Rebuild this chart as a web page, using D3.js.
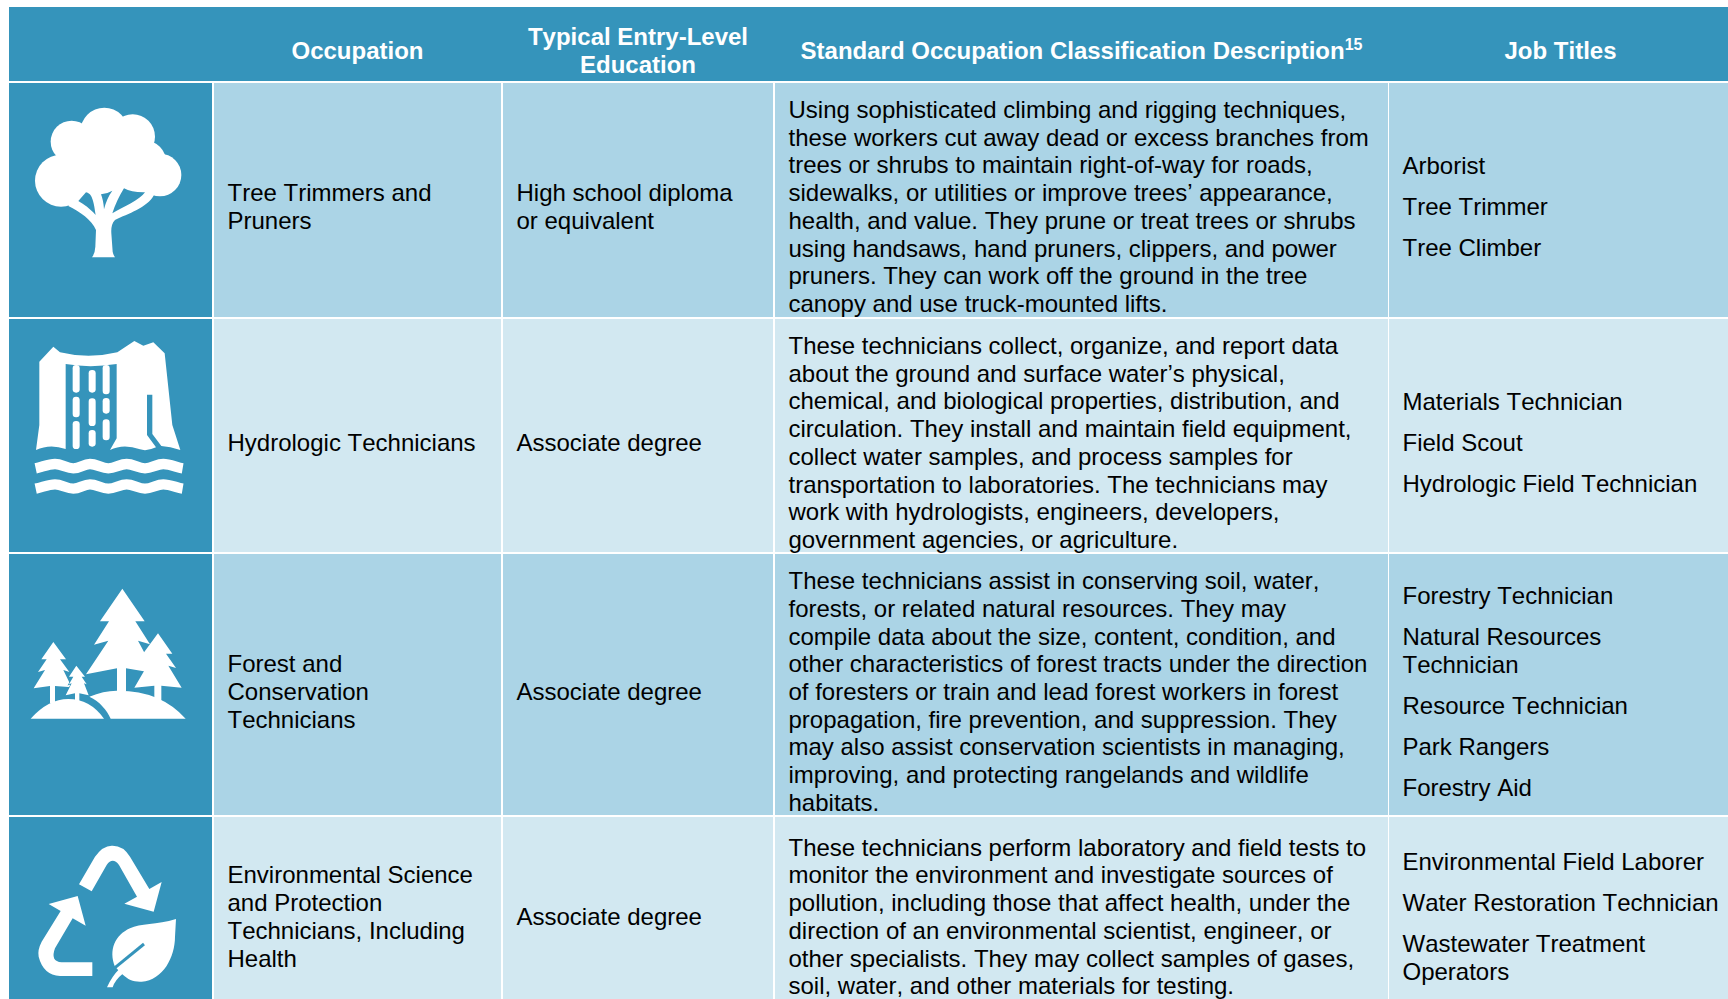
<!DOCTYPE html>
<html>
<head>
<meta charset="utf-8">
<script src="https://cdnjs.cloudflare.com/ajax/libs/d3/7.8.5/d3.min.js"></script>
<style>
    html, body { margin: 0; padding: 0; background: #fff; overflow: hidden; }
    text { font-family: "Liberation Sans", Arial, sans-serif; font-kerning: none; }
</style>
</head>
<body>
<main></main>
<script>
// Table content
const headers = [
    ['Occupation'],
    ['Typical Entry-Level', 'Education'],
    ['Standard Occupation Classification Description'],
    ['Job Titles']
];
const occupations = [
    ['Tree Trimmers and', 'Pruners'],
    ['Hydrologic Technicians'],
    ['Forest and', 'Conservation', 'Technicians'],
    ['Environmental Science', 'and Protection', 'Technicians, Including', 'Health']
];
const education = [
    ['High school diploma', 'or equivalent'],
    ['Associate degree'],
    ['Associate degree'],
    ['Associate degree']
];
const descriptions = [
    ['Using sophisticated climbing and rigging techniques,',
     'these workers cut away dead or excess branches from',
     'trees or shrubs to maintain right-of-way for roads,',
     'sidewalks, or utilities or improve trees’ appearance,',
     'health, and value. They prune or treat trees or shrubs',
     'using handsaws, hand pruners, clippers, and power',
     'pruners. They can work off the ground in the tree',
     'canopy and use truck-mounted lifts.'],
    ['These technicians collect, organize, and report data',
     'about the ground and surface water’s physical,',
     'chemical, and biological properties, distribution, and',
     'circulation. They install and maintain field equipment,',
     'collect water samples, and process samples for',
     'transportation to laboratories. The technicians may',
     'work with hydrologists, engineers, developers,',
     'government agencies, or agriculture.'],
    ['These technicians assist in conserving soil, water,',
     'forests, or related natural resources. They may',
     'compile data about the size, content, condition, and',
     'other characteristics of forest tracts under the direction',
     'of foresters or train and lead forest workers in forest',
     'propagation, fire prevention, and suppression. They',
     'may also assist conservation scientists in managing,',
     'improving, and protecting rangelands and wildlife',
     'habitats.'],
    ['These technicians perform laboratory and field tests to',
     'monitor the environment and investigate sources of',
     'pollution, including those that affect health, under the',
     'direction of an environmental scientist, engineer, or',
     'other specialists. They may collect samples of gases,',
     'soil, water, and other materials for testing.']
];
const jobTitles = [
    [['Arborist'], ['Tree Trimmer'], ['Tree Climber']],
    [['Materials Technician'], ['Field Scout'], ['Hydrologic Field Technician']],
    [['Forestry Technician'], ['Natural Resources', 'Technician'], ['Resource Technician'], ['Park Rangers'], ['Forestry Aid']],
    [['Environmental Field Laborer'], ['Water Restoration Technician'], ['Wastewater Treatment', 'Operators']]
];

// Layout and colours (the last column and row run past the page edge)
const svgWidth = 1728, svgHeight = 999;
const columnEdges = [[9, 212], [214, 501], [503, 773], [775, 1388], [1389, 1732]];
const rowEdges = [[83, 317], [319, 552], [554, 815], [817, 1003]];
const headerBox = { x: 9, y: 7, width: 1719, height: 74 };
const textPad = 13.5, lineHeight = 27.67, titleGap = 41, baselineShift = 15;
const blue = '#3594bb', rowDark = '#abd4e6', rowLight = '#d2e8f1';

const svg = d3.select('main').append('svg')
    .attr('width', svgWidth)
    .attr('height', svgHeight)
    .style('display', 'block');

// Header band
svg.append('rect')
    .attr('x', headerBox.x).attr('y', headerBox.y)
    .attr('width', headerBox.width).attr('height', headerBox.height)
    .attr('fill', blue);

const headerCy = headerBox.y + headerBox.height / 2 + baselineShift;
headers.forEach((lines, c) => {
    const cx = (columnEdges[c + 1][0] + columnEdges[c + 1][1]) / 2;
    const text = svg.append('text')
        .attr('text-anchor', 'middle')
        .attr('fill', '#fff')
        .attr('font-size', 24)
        .attr('font-weight', 700);
    lines.forEach((line, i) => {
        text.append('tspan')
            .attr('x', cx)
            .attr('y', headerCy + (i - (lines.length - 1) / 2) * lineHeight)
            .text(line);
    });
    // footnote mark on the description header
    if (c === 2) {
        text.append('tspan').attr('font-size', 16).attr('dy', -9).text('15');
    }
});

// Body cells
rowEdges.forEach(([top, bottom], r) => {
    const cy = Math.ceil((top + bottom) / 2 + baselineShift);
    columnEdges.forEach(([left, right], c) => {
        svg.append('rect')
            .attr('x', left).attr('y', top)
            .attr('width', right - left).attr('height', bottom - top)
            .attr('fill', c === 0 ? blue : (r % 2 === 0 ? rowDark : rowLight));
    });

    const columns = [occupations[r], education[r], descriptions[r]];
    columns.forEach((lines, c) => {
        svg.selectAll(null)
            .data(lines)
            .enter()
            .append('text')
            .attr('x', columnEdges[c + 1][0] + textPad)
            .attr('y', (d, i) => cy + (i - (lines.length - 1) / 2) * lineHeight)
            .attr('font-size', 24)
            .attr('fill', '#000')
            .text(d => d);
    });

    // Job titles: paragraphs with a larger gap between them
    const groups = jobTitles[r];
    const extra = d3.sum(groups, g => g.length - 1) * lineHeight + (groups.length - 1) * titleGap;
    let y = cy - extra / 2;
    groups.forEach(group => {
        group.forEach((line, i) => {
            svg.append('text')
                .attr('x', columnEdges[4][0] + textPad)
                .attr('y', y + i * lineHeight)
                .attr('font-size', 24)
                .attr('fill', '#000')
                .text(line);
        });
        y += (group.length - 1) * lineHeight + titleGap;
    });
});

// Icons are traced at 3x, so each group scales back down by a third
function icon(originY) {
    return svg.append('g')
        .attr('transform', `translate(0,${originY}) scale(${1 / 3})`)
        .attr('fill', '#fff');
}

// Tree
const tree = icon(0);
[[215, 425, 63], [313, 395, 72], [398, 410, 67], [183, 542, 78], [480, 525, 64], [400, 500, 80], [300, 480, 100], [430, 490, 70]]
    .forEach(([cx, cy, r]) => tree.append('circle').attr('cx', cx).attr('cy', cy).attr('r', r));
tree.append('path').attr('d', 'M276,772 Q285,760 286,740 L288,690 C275,660 240,635 205,618 L240,560 L440,560 L462,585 C440,625 385,640 345,660 C335,670 333,685 334,700 L338,755 Q340,765 345,772 Z');
tree.append('path').attr('fill', blue).attr('d', 'M258,577 C272,580 280,590 287,645 C270,625 250,612 235,603 Z');
tree.append('path').attr('fill', blue).attr('d', 'M303,583 Q320,582 337,572 Q320,595 312,628 Q310,600 303,583 Z');
tree.append('path').attr('fill', blue).attr('d', 'M372,565 Q395,578 435,577 C420,600 370,620 337,640 Q350,600 372,565 Z');

// Waterfall
const falls = icon(310);
falls.append('path').attr('d', 'M108,420 L118,345 L118,155 L160,110 L180,127 Q265,148 352,127 L403,93 L430,107 L460,97 L494,130 L517,345 L541,420 Q510,410 484,408 L457,372 L457,254 L441,254 L441,375 L468,412 Q440,425 420,418 Q370,400 330,420 L350,385 L350,162 Q270,175 197,162 L197,417 Q150,400 108,420 Z');
[[218, 165, 83], [218, 260, 62], [218, 333, 84], [266, 180, 68], [266, 265, 83], [266, 360, 50], [308, 165, 88], [308, 264, 47], [308, 328, 63]]
    .forEach(([x, y, h]) => falls.append('rect').attr('x', x).attr('y', y).attr('width', 21).attr('height', h).attr('rx', 10));
[0, 61].forEach(dy => {
    falls.append('path')
        .attr('transform', `translate(0,${dy})`)
        .attr('fill', 'none').attr('stroke', '#fff').attr('stroke-width', 31)
        .attr('d', 'M107,475 C130,470 145,462 165,462 S200,475 220,475 S250,462 270,462 S305,475 325,475 S360,462 380,462 S415,475 435,475 S470,462 490,462 S530,472 548,475');
});

// Forest
const forest = icon(550);
forest.append('path').attr('d', 'M367,116 L434,214 L406,214 L450,283 L414,272 L445,330 L440,365 L378,355 L378,425 L351,425 L351,355 L258,373 L325,272 L282,284 L327,214 L300,214 Z');
forest.append('path').attr('d', 'M474,250 L517,311 L498,311 L528,354 L505,347 L545,413 L484,407 L484,455 L463,455 L463,407 L403,413 L437,355 L430,310 Z');
forest.append('path').attr('d', 'M160,276 L198,328 L180,328 L208,366 L190,360 L215,412 L165,408 L165,460 L150,460 L150,408 L101,415 L135,360 L114,366 L140,328 L124,328 Z');
forest.append('path').attr('stroke', blue).attr('stroke-width', 4).attr('paint-order', 'stroke')
    .attr('d', 'M229,347 L255,380 L245,380 L260,403 L252,400 L266,436 L238,430 L238,455 L225,455 L225,430 L197,436 L215,400 L207,403 L220,380 L207,380 Z');
forest.append('path').attr('d', 'M92,506 Q145,447 205,447 Q270,447 312,506 Z');
forest.append('path').attr('d', 'M332,506 C320,480 300,455 268,440 Q310,422 350,422 Q480,420 557,506 Z');

// Recycling arrows and leaf
const recycle = icon(800);
recycle.append('path').attr('d', 'M237,253 L285,170 Q310,135 338,137 Q370,137 390,170 L448,267 L485,246 L461,335 L373,311 L411,290 L357,195 Q338,170 320,195 L275,274 Z');
recycle.append('path').attr('d', 'M146,312 L233,288 L257,377 L218,355 L165,445 Q150,485 185,487 L277,487 L277,528 L180,528 Q130,525 116,470 Q112,450 125,425 L182,333 Z');
recycle.append('path').attr('d', 'M528,357 C470,375 420,370 390,385 C345,405 325,450 345,500 L367,523 C385,540 400,546 425,545 C490,540 525,470 525,410 Z');
recycle.append('path').attr('fill', 'none').attr('stroke', blue).attr('stroke-width', 9).attr('d', 'M432,432 L345,503');
recycle.append('path').attr('d', 'M321,562 Q335,530 360,505 L370,520 Q345,540 338,562 Z');
</script>
</body>
</html>
